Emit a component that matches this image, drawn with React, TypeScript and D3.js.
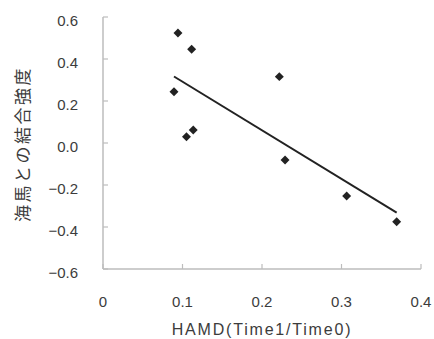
import React from "react";
import * as d3 from "d3";

const xValues = [0.0893, 0.0943, 0.105, 0.1115, 0.1135, 0.2218, 0.229, 0.3065, 0.3694];
const yValues = [0.244, 0.524, 0.03, 0.446, 0.062, 0.316, -0.081, -0.252, -0.375];
const xTicks = [0, 0.1, 0.2, 0.3, 0.4];
const xTickLabels = ["0", "0.1", "0.2", "0.3", "0.4"];
const yTicks = [0.6, 0.4, 0.2, 0, -0.2, -0.4, -0.6];
const yTickLabels = ["0.6", "0.4", "0.2", "0.0", "\u22120.2", "\u22120.4", "\u22120.6"];
const xTitle = "HAMD(Time1/Time0)";
const yTitle = "海馬との結合強度";

export default function App() {
  const W = 434, H = 339;
  const x = d3.scaleLinear().domain([0, 0.4]).range([103, 421]);
  const y = d3.scaleLinear().domain([-0.6, 0.6]).range([269, 17]);

  const mx = d3.mean(xValues)!;
  const my = d3.mean(yValues)!;
  let sxy = 0, sxx = 0;
  xValues.forEach((xv, i) => {
    sxy += (xv - mx) * (yValues[i] - my);
    sxx += (xv - mx) * (xv - mx);
  });
  const slope = sxy / sxx;
  const intercept = my - slope * mx;
  const [x0, x1] = d3.extent(xValues) as [number, number];
  const line = d3.line<[number, number]>().x(d => x(d[0])).y(d => y(d[1]));
  const regPath = line([[x0, intercept + slope * x0], [x1, intercept + slope * x1]]) || "";

  const sym = d3.symbol(d3.symbolSquare, 40)() || "";
  const axisColor = "#bdbdbd";
  const textColor = "#3c3c3c";
  const font = "'Liberation Sans', Arial, sans-serif";

  return (
    <svg width={W} height={H} style={{ position: "absolute", left: 0, top: 0, background: "#fff" }}>
      <rect width={W} height={H} fill="#fff" />
      {/* axes */}
      <line x1={x(0)} x2={x(0)} y1={y(0.6)} y2={y(-0.6)} stroke={axisColor} strokeWidth={1.5} />
      <line x1={x(0)} x2={x(0.4)} y1={y(-0.6)} y2={y(-0.6)} stroke={axisColor} strokeWidth={1.5} />
      {yTicks.map((t, i) => (
        <g key={"y" + i}>
          <line x1={x(0)} x2={x(0) + 5} y1={y(t)} y2={y(t)} stroke={axisColor} strokeWidth={1.2} />
          <text x={78} y={y(t) + 9} textAnchor="end" fontSize={15} fontFamily={font} fill={textColor}>
            {yTickLabels[i]}
          </text>
        </g>
      ))}
      {xTicks.map((t, i) => (
        <g key={"x" + i}>
          <line x1={x(t)} x2={x(t)} y1={y(-0.6)} y2={y(-0.6) - 5} stroke={axisColor} strokeWidth={1.2} />
          <text x={x(t)} y={307} textAnchor="middle" fontSize={15} fontFamily={font} fill={textColor}>
            {xTickLabels[i]}
          </text>
        </g>
      ))}
      <text x={262} y={335} textAnchor="middle" fontSize={16} letterSpacing={1.8} fontFamily={font} fill={textColor}>
        {xTitle}
      </text>
      <text
        transform={`translate(29,144) rotate(-90)`}
        textAnchor="middle"
        fontSize={17}
        letterSpacing={2.5}
        fontFamily="'Noto Sans CJK JP', sans-serif"
        fill={textColor}
      >
        {yTitle}
      </text>
      {/* regression line */}
      <path d={regPath} stroke="#222" strokeWidth={2} fill="none" />
      {/* points */}
      {xValues.map((xv, i) => (
        <path key={"p" + i} d={sym} transform={`translate(${x(xv)},${y(yValues[i])}) rotate(45)`} fill="#222" />
      ))}
    </svg>
  );
}
